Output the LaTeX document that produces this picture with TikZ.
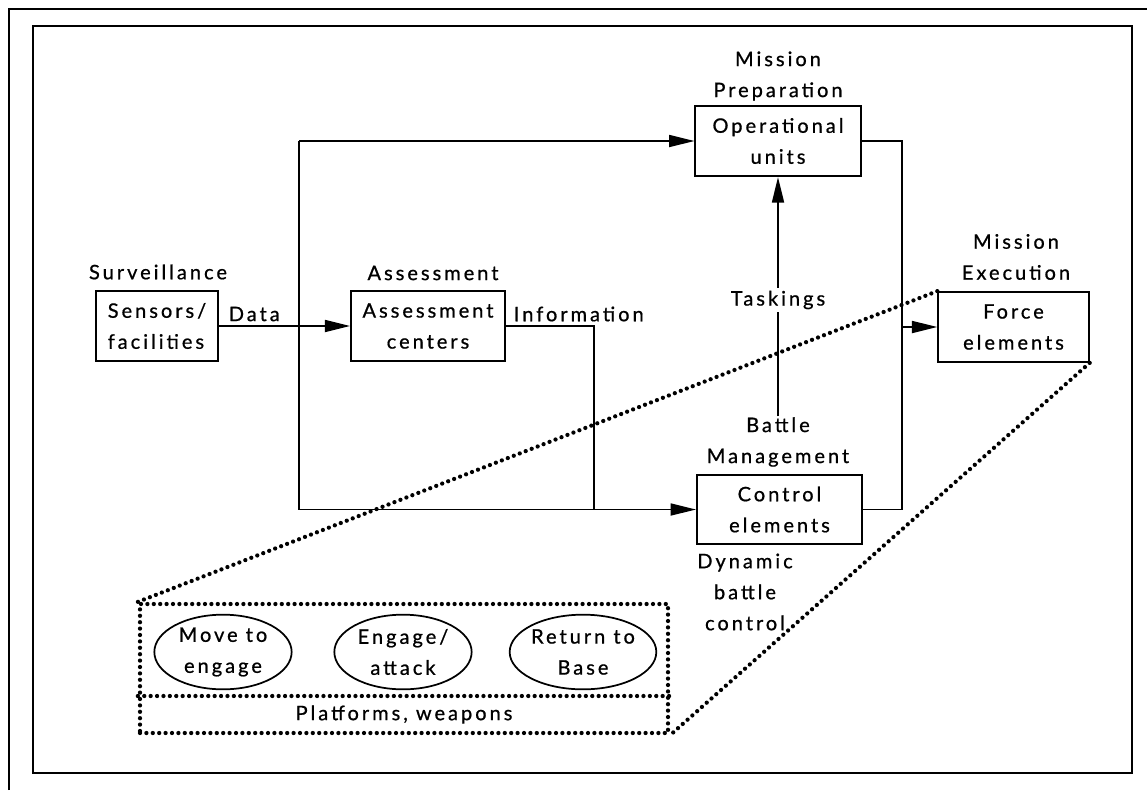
\documentclass[tikz,border=0pt]{standalone}
\usepackage{fontspec}
\setmainfont{Lato}[LetterSpace=15, FakeBold=0.8]
\usepackage{tikz}
\usetikzlibrary{arrows.meta, shapes.geometric}
\tikzset{every picture/.style={x=0.75pt,y=-0.75pt,line width=1.3pt,font=\fontsize{15}{23.25}\selectfont},
  unit/.style={draw, rectangle, align=center, inner sep=0pt, minimum height=53pt},
  lbl/.style={align=center, inner sep=0pt},
  act/.style={draw, ellipse, align=center, inner sep=0pt, minimum width=103pt, minimum height=56pt},
  flow/.style={-{Triangle[length=19pt,width=9pt]}},
  zoomline/.style={line width=3.2pt, line cap=round, dash pattern=on 0pt off 4.8pt}}

\begin{document}
\begin{tikzpicture}
        \useasboundingbox (0,0) rectangle (1147,790);
        \draw[line width=2pt] (9,790) -- (9,9) -- (1147,9);
        \draw[line width=1.5pt] (33,26) rectangle (1132,773);

        \node[unit, minimum width=91.5pt, align=left] (sens) at (157,326) {Sensors/\\facilities};
        \node[unit, minimum width=115.5pt] (assess) at (428,326) {Assessment\\centers};
        \node[unit, minimum width=124pt] (ops) at (778,141) {Operational\\units};
        \node[unit, minimum width=124pt, minimum height=52pt] (ctrl) at (779.5,509.5) {Control\\elements};
        \node[unit, minimum width=113pt, minimum height=52.5pt] (force) at (1013.5,327) {Force\\elements};

        \node[lbl] (surv) at (158,272) {Surveillance};
        \node[lbl] (asl) at (433,273) {Assessment};
        \node[lbl] (mprep) at (778,76) {Mission\\Preparation};
        \node[lbl] (mexec) at (1016,257) {Mission\\Execution};
        \node[lbl] (bm) at (778,442) {Battle\\Management};
        \node[lbl] (dyn) at (745,592) {Dynamic\\battle\\control};
        \node[lbl, anchor=west] (data) at (228,314) {Data};
        \node[lbl, anchor=west] (info) at (513,314) {Information};

        \coordinate (tl) at (299,141);
        \coordinate (bl) at (299,509.5);
        \coordinate (ij) at (594,509.5);
        \coordinate (fj) at (902,327);

        \draw (tl) -- (bl);
        \foreach \from/\to in {
          sens.east/assess.west, tl/ops.west, bl/ctrl.west,
          fj/force.west, bm.north/ops.south}
        \draw[flow] (\from) -- (\to);
        \draw (assess.east) -| (ij);
        \draw (ops.east) -| (fj) |- (ctrl.east);
        \node[lbl, fill=white, inner sep=2pt] (task) at (778,300) {Taskings};

        \node[draw, zoomline, inner sep=0pt, minimum width=396pt, minimum height=96.75pt] (plat) at (404,668.5) {};
        \node[lbl] (wpn) at (404,714.5) {Platforms, weapons};
        \node[act] (mv) at (223,652) {Move to\\engage};
        \node[act] (eng) at (403,652) {Engage/\\attack};
        \node[act] (rtb) at (583,652) {Return to\\Base};
        \draw[zoomline] (plat.west |- 0,696) -- (plat.east |- 0,696);

        \draw[zoomline] (force.north west) -- (plat.north west);
        \draw[zoomline] (force.south east) -- (plat.south east);
    \end{tikzpicture}
\end{document}
